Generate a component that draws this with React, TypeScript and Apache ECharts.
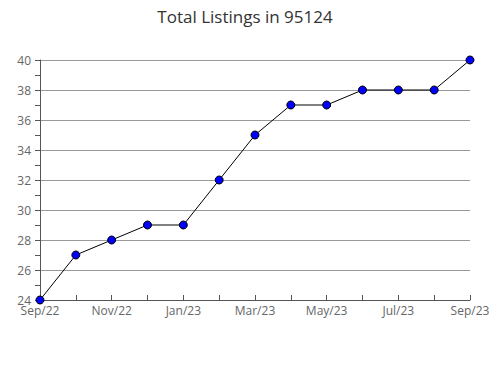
import React, { useEffect, useRef } from "react";
import * as echarts from "echarts";

const categories = ["Sep/22", "Oct/22", "Nov/22", "Dec/22", "Jan/23", "Feb/23", "Mar/23", "Apr/23", "May/23", "Jun/23", "Jul/23", "Aug/23", "Sep/23"];
const listings = [24, 27, 28, 29, 29, 32, 35, 37, 37, 38, 38, 38, 40];
const titleText = "Total Listings in 95124";

export default function App() {
  const ref = useRef<HTMLDivElement>(null);
  useEffect(() => {
    const chart = echarts.init(ref.current!, null, { renderer: "svg" });
    chart.setOption({
      animation: false,
      backgroundColor: "#fff",
      title: {
        text: titleText,
        left: "center",
        top: 3,
        textStyle: { fontFamily: "Open Sans", fontSize: 17, fontWeight: "normal", color: "#333" },
      },
      grid: { left: 40, right: 20, top: 60, bottom: 80, containLabel: false, outerBoundsMode: "none" },
      xAxis: {
        type: "category",
        data: categories,
        boundaryGap: false,
        axisLine: { lineStyle: { color: "#555" } },
        axisTick: { show: true, inside: true, length: 5, interval: 0, lineStyle: { color: "#555" } },
        axisLabel: { interval: 1, color: "#666", fontFamily: "Open Sans", fontSize: 12, margin: 4 },
        splitLine: { show: false },
      },
      yAxis: {
        type: "value",
        min: 24,
        max: 40,
        interval: 2,
        axisLine: { show: true, lineStyle: { color: "#555" } },
        axisTick: { show: true, length: 5, lineStyle: { color: "#555" } },
        minorTick: { show: true, splitNumber: 2, length: 5, lineStyle: { color: "#555" } },
        axisLabel: { color: "#666", fontFamily: "Open Sans", fontSize: 12, margin: 9 },
        splitLine: { show: true, lineStyle: { color: "#999" } },
      },
      series: [
        {
          type: "line",
          data: listings,
          symbol: "circle",
          symbolSize: 8,
          lineStyle: { color: "#000", width: 1 },
          itemStyle: { color: "#0000ff", borderColor: "#000", borderWidth: 1 },
        },
      ],
    });
    return () => chart.dispose();
  }, []);
  return <div ref={ref} style={{ width: 490, height: 380, position: "absolute", left: 0, top: 0 }} />;
}
